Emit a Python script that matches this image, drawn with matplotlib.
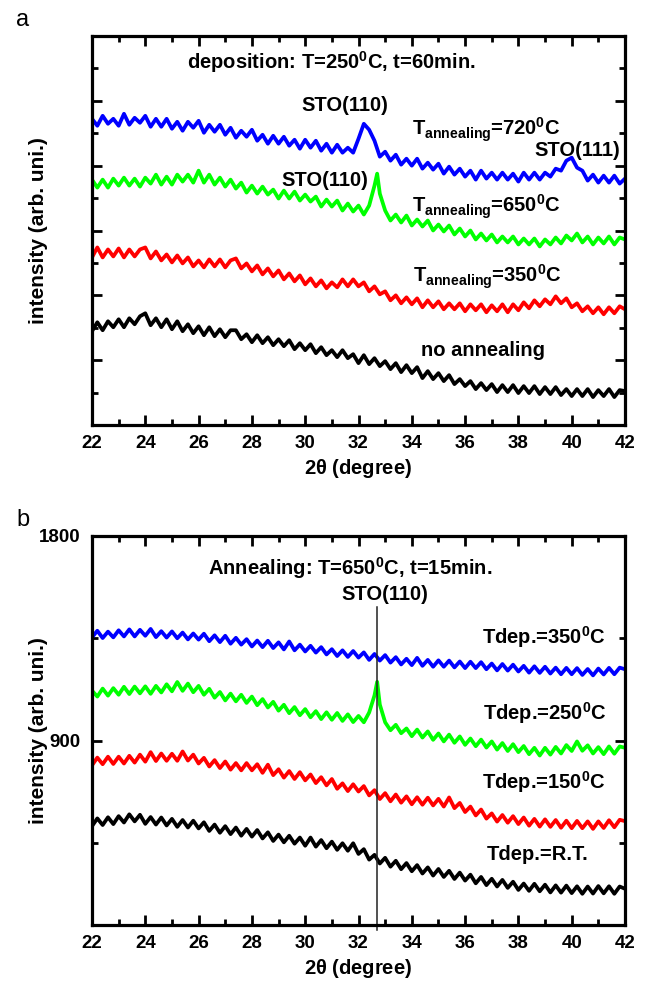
import numpy as np
import matplotlib
matplotlib.use("Agg")
import matplotlib.pyplot as plt
from matplotlib.ticker import MultipleLocator, FixedLocator

plt.rcParams['font.family'] = ['Liberation Sans', 'DejaVu Sans']
plt.rcParams['font.weight'] = 'bold'
plt.rcParams['mathtext.fontset'] = 'custom'
plt.rcParams['mathtext.rm'] = 'Liberation Sans:bold'
plt.rcParams['mathtext.bf'] = 'Liberation Sans:bold'
plt.rcParams['mathtext.default'] = 'rm'

# ---------------- data ----------------
two_theta = np.round(np.linspace(22, 42, 101), 2)   # 0.2 degree grid

# panel a (arbitrary units)
a_720 = [307, 300, 310, 302, 307, 300, 312, 301, 308, 303, 310, 299, 307, 299, 307, 297, 304, 295, 304, 298,
         305, 293, 301, 294, 301, 291, 298, 288, 295, 289, 296, 285, 291, 282, 290, 282, 289, 280, 286, 277,
         286, 278, 285, 275, 282, 273, 281, 273, 278, 273, 287, 302, 296, 285, 269, 274, 265, 271, 261, 267,
         260, 267, 257, 263, 256, 262, 252, 259, 251, 257, 249, 255, 246, 255, 247, 253, 246, 253, 246, 252,
         244, 253, 246, 253, 246, 253, 249, 257, 255, 265, 268, 258, 255, 245, 251, 243, 250, 243, 250, 242,
         247]
a_650 = [246, 238, 246, 238, 247, 240, 248, 240, 247, 239, 248, 242, 251, 241, 249, 241, 251, 244, 251, 243,
         255, 243, 251, 241, 248, 239, 246, 237, 243, 233, 240, 232, 239, 231, 236, 227, 235, 227, 234, 225,
         231, 224, 229, 219, 226, 219, 225, 215, 222, 214, 220, 211, 220, 240, 232, 215, 205, 211, 203, 210,
         200, 206, 199, 205, 195, 201, 194, 200, 191, 197, 189, 195, 186, 192, 185, 191, 183, 189, 183, 189,
         181, 187, 181, 187, 179, 186, 181, 188, 182, 190, 185, 192, 183, 189, 181, 188, 182, 189, 181, 188,
         186]
a_650_peak_x = [32.7]
a_650_peak_y = [252]
a_350 = [168, 178, 168, 176, 169, 177, 168, 176, 169, 176, 178, 167, 174, 165, 171, 163, 170, 162, 168, 159,
         165, 158, 166, 159, 166, 158, 165, 167, 157, 162, 154, 160, 151, 157, 149, 155, 146, 152, 144, 150,
         141, 147, 139, 145, 137, 143, 138, 146, 139, 146, 139, 143, 134, 139, 131, 134, 125, 130, 122, 128,
         121, 127, 118, 125, 118, 124, 116, 122, 116, 122, 114, 121, 115, 121, 113, 120, 114, 121, 113, 121,
         115, 123, 117, 125, 119, 126, 121, 129, 122, 127, 118, 122, 114, 119, 112, 118, 111, 118, 112, 119,
         116]
a_none = [94, 103, 95, 104, 98, 106, 98, 107, 101, 109, 112, 100, 107, 98, 106, 96, 104, 94, 101, 92,
          99, 90, 98, 89, 96, 88, 95, 95, 86, 91, 83, 90, 82, 88, 80, 86, 79, 85, 76, 82,
          75, 81, 72, 78, 70, 75, 68, 75, 67, 71, 62, 70, 61, 67, 59, 64, 56, 62, 53, 60,
          52, 58, 47, 54, 46, 52, 44, 50, 41, 46, 39, 44, 36, 42, 35, 41, 33, 40, 33, 40,
          32, 39, 32, 39, 31, 38, 31, 38, 30, 36, 29, 36, 29, 36, 28, 35, 29, 36, 28, 35,
          34]

# panel b (counts)
b_350 = [1355, 1384, 1352, 1380, 1355, 1386, 1359, 1390, 1359, 1388, 1362, 1392, 1356, 1382, 1354, 1381, 1351, 1376, 1346, 1372,
         1345, 1371, 1338, 1364, 1334, 1362, 1327, 1353, 1323, 1347, 1315, 1341, 1312, 1340, 1308, 1333, 1302, 1337, 1298, 1323,
         1293, 1318, 1288, 1312, 1280, 1303, 1273, 1298, 1269, 1295, 1266, 1289, 1256, 1282, 1253, 1277, 1244, 1268, 1236, 1261,
         1233, 1265, 1230, 1256, 1226, 1254, 1226, 1253, 1223, 1249, 1220, 1248, 1220, 1246, 1215, 1240, 1210, 1238, 1209, 1235,
         1205, 1230, 1200, 1228, 1199, 1226, 1196, 1222, 1193, 1221, 1193, 1220, 1190, 1216, 1188, 1218, 1192, 1221, 1193, 1222,
         1215]
b_250 = [1121, 1095, 1130, 1099, 1132, 1103, 1138, 1106, 1139, 1109, 1140, 1107, 1142, 1113, 1149, 1118, 1159, 1120, 1152, 1114,
         1142, 1103, 1129, 1090, 1115, 1078, 1108, 1074, 1103, 1067, 1095, 1057, 1084, 1047, 1072, 1033, 1059, 1022, 1049, 1013,
         1040, 1004, 1031, 996, 1026, 993, 1023, 988, 1017, 983, 1010, 982, 1025, 1100, 1060, 982, 947, 971, 934, 955,
         921, 950, 915, 942, 905, 933, 898, 928, 892, 920, 883, 911, 877, 906, 871, 898, 862, 891, 856, 886,
         851, 878, 842, 870, 836, 870, 840, 874, 845, 882, 856, 898, 857, 881, 845, 873, 842, 876, 844, 876,
         870]
b_250_peak_x = [32.7]
b_250_peak_y = [1160]
b_150 = [793, 827, 798, 831, 799, 831, 801, 835, 805, 840, 809, 851, 812, 845, 813, 844, 813, 854, 814, 840,
         801, 826, 788, 816, 781, 810, 774, 803, 771, 803, 771, 798, 760, 796, 750, 776, 739, 768, 733, 763,
         727, 753, 715, 741, 705, 733, 690, 714, 680, 710, 678, 702, 661, 684, 645, 671, 635, 665, 629, 657,
         622, 653, 620, 651, 617, 646, 612, 652, 605, 628, 588, 612, 573, 599, 559, 582, 546, 575, 541, 570,
         535, 564, 528, 558, 524, 556, 523, 553, 519, 550, 517, 549, 517, 547, 514, 547, 518, 552, 521, 554,
         548]
b_rt = [526, 560, 531, 565, 535, 570, 542, 578, 547, 576, 536, 566, 533, 564, 529, 558, 523, 553, 520, 550,
        516, 543, 505, 533, 497, 526, 491, 520, 484, 514, 480, 509, 472, 499, 461, 489, 455, 484, 449, 476,
        440, 476, 436, 465, 429, 458, 422, 451, 418, 451, 404, 425, 379, 400, 362, 387, 348, 374, 337, 364,
        328, 355, 318, 345, 309, 338, 303, 330, 294, 322, 287, 313, 275, 303, 267, 295, 261, 290, 255, 282,
        246, 274, 242, 273, 240, 269, 235, 266, 234, 265, 232, 262, 229, 261, 230, 263, 231, 262, 229, 261,
        251]

sto110_line_x = 32.68
b_yticks = [900, 1800]
x_ticks = list(range(22, 43, 2))


def merged(x, y, px, py):
    xx = np.concatenate([np.asarray(x, float), np.asarray(px, float)])
    yy = np.concatenate([np.asarray(y, float), np.asarray(py, float)])
    order = np.argsort(xx, kind='stable')
    return xx[order], yy[order]


# ---------------- figure ----------------
fig = plt.figure(figsize=(6.45, 9.81), dpi=100)
L, W, H = 92 / 645, 533 / 645, 389 / 981
ax_a = fig.add_axes([L, 1 - 425 / 981, W, H])
ax_b = fig.add_axes([L, 1 - 925 / 981, W, H])

BLUE, GREEN, RED, BLACK = '#0000ff', '#00ff00', '#ff0000', '#000000'
LW = 2.7

ax_a.plot(two_theta, a_720, color=BLUE, lw=LW)
ax_a.plot(*merged(two_theta, a_650, a_650_peak_x, a_650_peak_y), color=GREEN, lw=LW)
ax_a.plot(two_theta, a_350, color=RED, lw=LW)
ax_a.plot(two_theta, a_none, color=BLACK, lw=LW)

ax_b.plot(two_theta, b_350, color=BLUE, lw=LW)
ax_b.plot(*merged(two_theta, b_250, b_250_peak_x, b_250_peak_y), color=GREEN, lw=LW)
ax_b.plot(two_theta, b_150, color=RED, lw=LW)
ax_b.plot(two_theta, b_rt, color=BLACK, lw=LW)

ax_a.set_xlim(22, 42)
ax_a.set_ylim(0, 390)
ax_b.set_xlim(22, 42)
ax_b.set_ylim(92, 1800)

tick_font = dict(family=['Liberation Sans Narrow', 'Liberation Sans'], weight='bold', size=13.5)
for ax in (ax_a, ax_b):
    for s in ax.spines.values():
        s.set_linewidth(2.3)
    ax.xaxis.set_major_locator(FixedLocator(x_ticks))
    ax.xaxis.set_minor_locator(MultipleLocator(1))
    ax.tick_params(which='both', direction='in', top=True, right=True, width=2.0)
    ax.tick_params(which='major', length=7.5)
    ax.tick_params(which='minor', length=4)
    ax.tick_params(axis='x', which='major', pad=7)
    for lab in ax.get_xticklabels():
        lab.set_fontproperties(tick_font)
    ax.set_xlabel(r'2$\theta$ (degree)', fontsize=14.5, fontweight='bold', labelpad=4)
    ax.set_ylabel('intensity (arb. uni.)', fontsize=15, fontweight='bold')
    ax.yaxis.set_label_coords(-0.082, 0.5)

ax_a.yaxis.set_major_locator(MultipleLocator(65))
ax_a.yaxis.set_minor_locator(MultipleLocator(32.5))
ax_a.set_yticklabels([])
ax_a.tick_params(axis='y', labelleft=False)

ax_b.yaxis.set_major_locator(FixedLocator(b_yticks))
ax_b.yaxis.set_minor_locator(MultipleLocator(450))
ax_b.tick_params(axis='y', which='major', pad=8)
for lab in ax_b.get_yticklabels():
    lab.set_fontproperties(tick_font)

TXT = dict(fontsize=14.5, fontweight='bold')
# panel a annotations
ax_a.text(31.0, 357, r'deposition: T=250$^{0}$C, t=60min.', ha='center', va='baseline', **TXT)
ax_a.text(31.49, 320, 'STO(110)', ha='center', va='center', **TXT)
ax_a.text(40.2, 275, 'STO(111)', ha='center', va='center', **TXT)
ax_a.text(30.74, 245, 'STO(110)', ha='center', va='center', **TXT)
ax_a.text(34.0, 290, r'T$_{\mathrm{annealing}}$=720$^{0}$C', ha='left', va='baseline', **TXT)
ax_a.text(34.0, 213, r'T$_{\mathrm{annealing}}$=650$^{0}$C', ha='left', va='baseline', **TXT)
ax_a.text(34.05, 143, r'T$_{\mathrm{annealing}}$=350$^{0}$C', ha='left', va='baseline', **TXT)
ax_a.text(36.67, 75, 'no annealing', ha='center', va='center', **TXT)

# panel b annotations
ax_b.text(31.68, 1629, r'Annealing: T=650$^{0}$C, t=15min.', ha='center', va='baseline', **TXT)
ax_b.text(33.0, 1519, 'STO(110)', ha='center', va='baseline', **TXT)
ax_b.text(36.63, 1326, r'Tdep.=350$^{0}$C', ha='left', va='baseline', **TXT)
ax_b.text(36.67, 992, r'Tdep.=250$^{0}$C', ha='left', va='baseline', **TXT)
ax_b.text(36.63, 689, r'Tdep.=150$^{0}$C', ha='left', va='baseline', **TXT)
ax_b.text(36.82, 378, 'Tdep.=R.T.', ha='left', va='baseline', **TXT)
ax_b.axvline(sto110_line_x, ymin=-0.012, ymax=0.8175, color='#222222', lw=1.1, clip_on=False)

fig.text(23 / 645, 1 - 20 / 981, 'a', ha='center', va='center', fontsize=17, fontweight='normal')
fig.text(23 / 645, 1 - 520 / 981, 'b', ha='center', va='center', fontsize=17, fontweight='normal')

fig.savefig('out.png', dpi=100)
